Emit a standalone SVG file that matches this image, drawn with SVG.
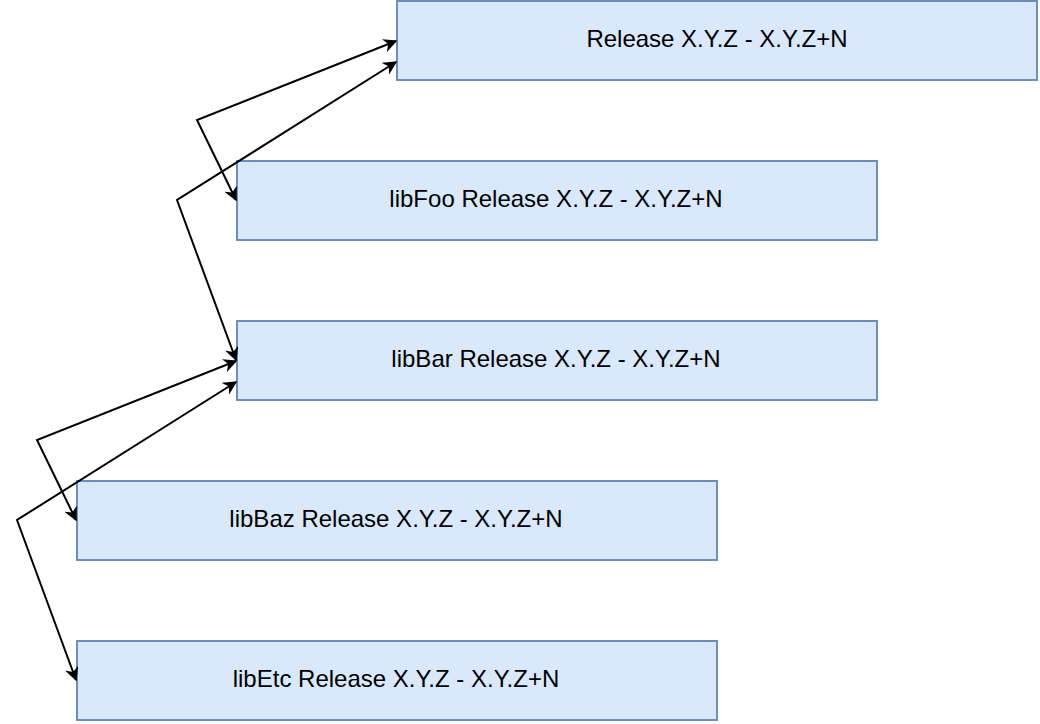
<svg xmlns="http://www.w3.org/2000/svg" width="1040" height="724" viewBox="0 0 1040 724">
<defs>
<marker id="a" viewBox="0 0 10 10" refX="9" refY="5" markerWidth="14" markerHeight="14" orient="auto-start-reverse" markerUnits="userSpaceOnUse"><path d="M0,0 L10,5 L0,10 L3,5 Z" fill="#000"/></marker>
<style>
.n rect{fill:#dae8fc;stroke:#6c8ebf;stroke-width:2}
text{font-family:"Liberation Sans",Arial,sans-serif;font-size:24px;fill:#000;text-anchor:middle;dominant-baseline:central}
.c polyline{fill:none;stroke:#000;stroke-width:2;marker-start:url(#a);marker-end:url(#a)}
</style>
</defs>
<rect width="1040" height="724" fill="#fff"/>
<g class="n" id="release"><rect x="397" y="1" width="640" height="79"/><text x="717" y="38">Release X.Y.Z - X.Y.Z+N</text></g>
<g class="n" id="libfoo"><rect x="237" y="161" width="640" height="79"/><text x="556" y="198">libFoo Release X.Y.Z - X.Y.Z+N</text></g>
<g class="n" id="libbar"><rect x="237" y="321" width="640" height="79"/><text x="556" y="358">libBar Release X.Y.Z - X.Y.Z+N</text></g>
<g class="n" id="libbaz"><rect x="77" y="481" width="640" height="79"/><text x="396" y="518">libBaz Release X.Y.Z - X.Y.Z+N</text></g>
<g class="n" id="libetc"><rect x="77" y="641" width="640" height="79"/><text x="396" y="678">libEtc Release X.Y.Z - X.Y.Z+N</text></g>
<g class="c" id="connectors">
<polyline points="236,200 197,120 396,41"/>
<polyline points="236,360 177,200 396,62"/>
<polyline points="76,520 37,440 236,361"/>
<polyline points="76,680 17,520 236,382"/>
</g>
</svg>
